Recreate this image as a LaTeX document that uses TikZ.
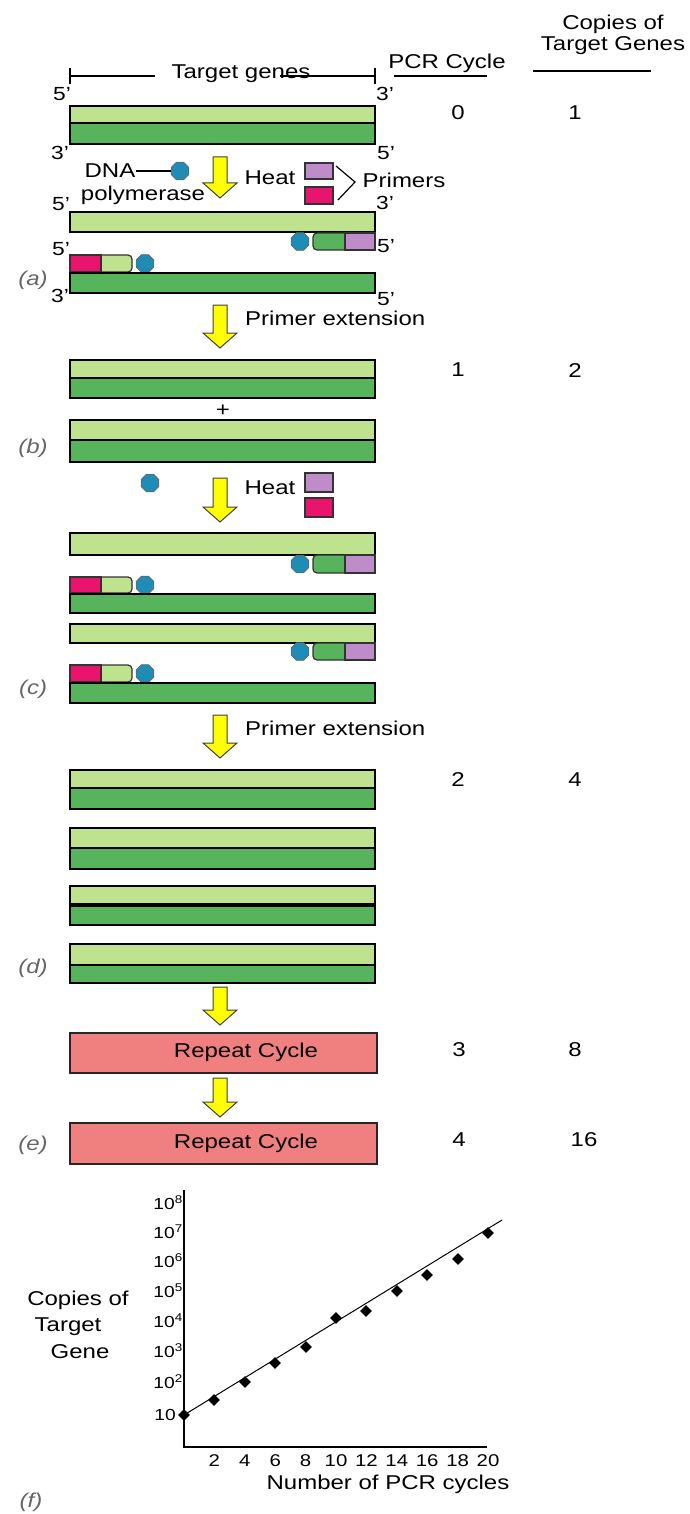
\documentclass[tikz,border=0pt]{standalone}
\usepackage{fontspec}
\setmainfont{Liberation Sans}[FakeStretch=1.2]
\usetikzlibrary{shapes.geometric}

\definecolor{strandlight}{RGB}{190,226,142}
\definecolor{stranddark}{RGB}{88,180,92}
\definecolor{primerpurple}{RGB}{190,140,200}
\definecolor{primerred}{RGB}{232,20,110}
\definecolor{polyblue}{RGB}{30,140,180}
\definecolor{arrowyellow}{RGB}{255,255,0}
\definecolor{repeatpink}{RGB}{240,128,128}

\tikzset{
  lt/.style={draw=black, line width=1.5pt, fill=strandlight},
  dk/.style={draw=black, line width=1.5pt, fill=stranddark},
  pp/.style={draw=black!80, line width=1.2pt, fill=primerpurple},
  pr/.style={draw=black!80, line width=1.2pt, fill=primerred},
  seglt/.style={draw=black!80, line width=1.2pt, fill=strandlight, rounded corners=4pt},
  segdk/.style={draw=black!80, line width=1.2pt, fill=stranddark, rounded corners=4pt},
  poly/.style={regular polygon, regular polygon sides=8, draw=black!60, fill=polyblue, minimum size=19pt, inner sep=0pt, line width=0.8pt},
  lbl/.style={font=\fontsize{20}{24}\selectfont, inner sep=0pt},
  endlbl/.style={font=\fontsize{19}{22}\selectfont, inner sep=0pt},
  part/.style={font=\fontsize{20}{24}\selectfont\itshape, text=black!60, inner sep=0pt},
  yarrowstyle/.style={draw=black!75, line width=1pt, fill=arrowyellow, line join=miter},
  repeatbox/.style={draw=black!85, line width=1.5pt, fill=repeatpink},
  ticklbl/.style={font=\fontsize{16}{18}\selectfont, inner sep=0pt},
  xticklbl/.style={font=\fontsize{17}{19}\selectfont, inner sep=0pt},
  datapt/.style={diamond, fill=black, inner sep=0pt, minimum size=12pt},
  thinline/.style={line width=1.2pt}
}

% double strand: top edge, middle, bottom edge
\newcommand\duplex[3]{%
  \draw[lt] (70,#1) rectangle (375,#2);
  \draw[dk] (70,#2) rectangle (375,#3);}
% primer extended toward the left, bound to the upper strand
\newcommand\rightrow[3]{%
  \node[poly] (#3) at (300,{(#1+#2)/2}) {};
  \draw[segdk] (313,#1) rectangle (352,#2);
  \draw[pp] (345,#1) rectangle (375,#2);}
% primer extended toward the right, bound to the lower strand
\newcommand\leftrow[3]{%
  \draw[seglt] (95,#1) rectangle (132,#2);
  \draw[pr] (70,#1) rectangle (101,#2);
  \node[poly] (#3) at (145,{(#1+#2)/2}) {};}
% block arrow pointing down: centre x, top, tip
\newcommand\yarrow[3]{%
  \draw[yarrowstyle] (#1-7,#2) -- (#1+7,#2) -- (#1+7,#3-15) -- (#1+17,#3-15)
    -- (#1,#3) -- (#1-17,#3-15) -- (#1-7,#3-15) -- cycle;}

\begin{document}
\begin{tikzpicture}[x=1pt, y=-1pt]
\useasboundingbox (0,0) rectangle (690,1514);

% ---------- column headings ----------
\node[lbl] (copiesA) at (613,24) {Copies of};
\node[lbl] (copiesB) at (613,46) {Target Genes};
\draw[thinline] (533,71) -- (651,71);
\node[lbl] (pcr) at (447,63) {PCR Cycle};
\draw[thinline] (394,76) -- (487,76);

% ---------- target region bracket ----------
\node[lbl] (tg) at (241,74) {Target genes};
\draw[thinline] (70,68) -- (70,84);
\draw[thinline] (70,76) -- (155,76);
\draw[thinline] (280,76) -- (375,76);
\draw[thinline] (375,68) -- (375,84);

% ---------- cycle 0 ----------
\node[endlbl] (e1) at (62,94) {5'};
\node[endlbl] (e2) at (385,94) {3'};
\duplex{106}{123}{144}
\node[endlbl] (e3) at (60,153) {3'};
\node[endlbl] (e4) at (386,153) {5'};
\node[lbl] (n0a) at (458,113) {0};
\node[lbl] (n0b) at (575,113) {1};

% polymerase, heat and primers
\node[lbl] (dna) at (110,171) {DNA};
\node[lbl] (polym) at (143,195) {polymerase};
\node[poly] (polA) at (180,171) {};
\draw[thinline] (dna.east) -- (polA);
\yarrow{220}{157}{198}
\node[lbl] (heatA) at (270,178) {Heat};
\draw[pp] (305,163) rectangle (333,179);
\draw[pr] (305,187) rectangle (333,204);
\draw[thinline] (336,166) -- (355,182) -- (338,200);
\node[lbl] (primers) at (404,180) {Primers};

% ---------- (a) annealed primers ----------
\node[endlbl] (e5) at (61,204) {5'};
\node[endlbl] (e6) at (385,203) {3'};
\draw[lt] (70,212) rectangle (375,232);
\rightrow{233}{250}{polR1}
\node[endlbl] (e7) at (386,246) {5'};
\node[endlbl] (e8) at (61,249) {5'};
\leftrow{255}{272}{polL1}
\draw[dk] (70,273) rectangle (375,293);
\node[endlbl] (e9) at (60,296) {3'};
\node[endlbl] (e10) at (386,299) {5'};
\node[part] (pa) at (33,280) {(a)};

\yarrow{220}{305}{348}
\node[lbl, anchor=west] (extA) at (245,318) {Primer extension};

% ---------- (b) cycle 1 ----------
\duplex{360}{378}{398}
\node[lbl] (plus) at (223,411) {+};
\duplex{420}{440}{462}
\node[part] (pb) at (33,448) {(b)};
\node[lbl] (n1a) at (458,370) {1};
\node[lbl] (n1b) at (575,371) {2};

\node[poly] (polB) at (150,483) {};
\yarrow{220}{478}{522}
\node[lbl] (heatB) at (270,488) {Heat};
\draw[pp] (305,473) rectangle (333,492);
\draw[pr] (305,498) rectangle (333,517);

% ---------- (c) primers on four strands ----------
\draw[lt] (70,533) rectangle (375,555);
\rightrow{555}{573}{polR2}
\leftrow{577}{593}{polL2}
\draw[dk] (70,594) rectangle (375,613);
\draw[lt] (70,624) rectangle (375,643);
\rightrow{643}{660}{polR3}
\leftrow{665}{682}{polL3}
\draw[dk] (70,683) rectangle (375,703);
\node[part] (pc) at (33,689) {(c)};

\yarrow{220}{715}{758}
\node[lbl, anchor=west] (extB) at (245,728) {Primer extension};

% ---------- (d) cycle 2 ----------
\duplex{770}{788}{809}
\duplex{828}{848}{869}
\duplex{886}{905}{925}
\draw[line width=4pt] (70,905) -- (375,905);
\duplex{944}{965}{983}
\node[part] (pd) at (33,968) {(d)};
\node[lbl] (n2a) at (458,780) {2};
\node[lbl] (n2b) at (575,780) {4};

\yarrow{220}{987}{1025}

% ---------- (e) further cycles ----------
\draw[repeatbox] (70,1033) rectangle (377,1073);
\node[lbl] (rep1) at (246,1052) {Repeat Cycle};
\node[lbl] (n3a) at (459,1050) {3};
\node[lbl] (n3b) at (575,1050) {8};
\yarrow{220}{1078}{1117}
\draw[repeatbox] (70,1123) rectangle (377,1164);
\node[lbl] (rep2) at (246,1143) {Repeat Cycle};
\node[lbl] (n4a) at (459,1140) {4};
\node[lbl] (n4b) at (584,1140) {16};
\node[part] (pe) at (33,1145) {(e)};

% ---------- (f) amplification plot ----------
\draw[thinline] (184,1190) -- (184,1447) -- (487,1447);
\foreach \e/\y in {8/1203,7/1232,6/1261,5/1291,4/1321,3/1351,2/1382}
  \node[ticklbl, anchor=east] (ylab\e) at (183,\y) {10\textsuperscript{\e}};
\node[ticklbl, anchor=east] (ylab1) at (176,1415) {10};
\foreach \c in {2,4,...,20}
  \node[xticklbl] (xlab\c) at ({184+15.2*\c},1461) {\c};
\node[lbl] (xtitle) at (388,1484) {Number of PCR cycles};
\node[lbl] (yt1) at (78,1300) {Copies of};
\node[lbl] (yt2) at (68,1327) {Target};
\node[lbl] (yt3) at (80,1352) {Gene};

\draw[line width=1pt] (184,1415) -- (502,1220);
\foreach \x/\y [count=\i] in {184/1415,214/1400,245/1382,275/1363,306/1347,
    336/1318,366/1311,397/1291,427/1275,458/1259,488/1233}
  \node[datapt] (pt\i) at (\x,\y) {};
\node[part] (pf) at (31,1502) {(f)};
\end{tikzpicture}
\end{document}
